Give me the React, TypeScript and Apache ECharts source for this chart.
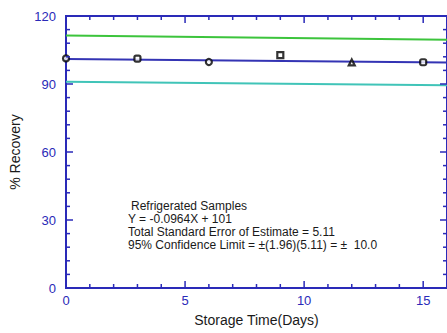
import React, { useEffect, useRef } from "react";
import * as echarts from "echarts";

const days = [0, 3, 6, 9, 12, 15];
const recovery = [101.3, 101.2, 99.7, 102.7, 99.5, 99.6];
const symbols = ["circle", "roundRect", "circle", "rect", "triangle", "roundRect"];
const regressionLine = [[0, 101], [16, 99.46]];
const upperLimit = [[0, 111.4], [16, 109.5]];
const lowerLimit = [[0, 91.0], [16, 89.4]];
const xTicks = [0, 5, 10, 15];
const yTicks = [0, 30, 60, 90, 120];
const xMajorTicks = [5, 10, 15];
const xMinorTicks = [1, 2, 3, 4, 6, 7, 8, 9, 11, 12, 13, 14];
const yMajorTicks = [30, 60, 90];
const yMinorTicks = [6, 12, 18, 24, 36, 42, 48, 54, 66, 72, 78, 84, 96, 102, 108, 114];
const noteLines = [
  "Refrigerated Samples",
  "Y = -0.0964X + 101",
  "Total Standard Error of Estimate = 5.11",
  "95% Confidence Limit = \u00B1(1.96)(5.11) = \u00B1  10.0",
];

const AXIS = "#2a2ab8";
const FONT = "Liberation Sans, Arial, sans-serif";
const X_MAX = 16;
const Y_MAX = 120;

// side: 0 bottom, 1 top, 2 left, 3 right
function tickSeries(side: number, values: number[], len: number) {
  return {
    type: "custom",
    silent: true,
    clip: false,
    z: 10,
    data: values.map((v) => [v, len]),
    renderItem: (params: any, api: any) => {
      const v = api.value(0);
      const l = api.value(1);
      let x1 = 0, y1 = 0, x2 = 0, y2 = 0;
      if (side === 0) {
        const p = api.coord([v, 0]);
        x1 = p[0]; y1 = p[1]; x2 = p[0]; y2 = p[1] - l;
      } else if (side === 1) {
        const p = api.coord([v, Y_MAX]);
        x1 = p[0]; y1 = p[1]; x2 = p[0]; y2 = p[1] + l;
      } else if (side === 2) {
        const p = api.coord([0, v]);
        x1 = p[0]; y1 = p[1]; x2 = p[0] + l; y2 = p[1];
      } else {
        const p = api.coord([X_MAX, v]);
        x1 = p[0]; y1 = p[1]; x2 = p[0] - l; y2 = p[1];
      }
      return {
        type: "line",
        shape: { x1, y1, x2, y2 },
        style: { stroke: AXIS, lineWidth: 1.5 },
      };
    },
  };
}

export default function App() {
  const ref = useRef<HTMLDivElement>(null);
  useEffect(() => {
    if (!ref.current) return;
    const chart = echarts.init(ref.current, null, { renderer: "svg" });
    chart.setOption({
      animation: false,
      grid: {
        left: 62,
        top: 16,
        right: -1,
        bottom: 45,
        show: true,
        borderColor: AXIS,
        borderWidth: 2,
        backgroundColor: "transparent",
      },
      xAxis: {
        type: "value",
        min: 0,
        max: X_MAX,
        interval: 5,
        axisLine: { show: false },
        axisTick: { show: false },
        splitLine: { show: false },
        name: "Storage Time(Days)",
        nameLocation: "middle",
        nameGap: 25,
        nameTextStyle: { color: "#1a1a1a", fontFamily: FONT, fontSize: 14 },
        axisLabel: {
          color: AXIS,
          fontFamily: FONT,
          fontSize: 13,
          margin: 6,
          showMaxLabel: false,
          formatter: (v: number) => (xTicks.includes(v) ? String(v) : ""),
        },
      },
      yAxis: {
        type: "value",
        min: 0,
        max: Y_MAX,
        interval: 30,
        axisLine: { show: false },
        axisTick: { show: false },
        splitLine: { show: false },
        name: "% Recovery",
        nameLocation: "middle",
        nameGap: 44,
        nameTextStyle: { color: "#1a1a1a", fontFamily: FONT, fontSize: 14 },
        axisLabel: {
          color: AXIS,
          fontFamily: FONT,
          fontSize: 13,
          margin: 10,
          formatter: (v: number) => (yTicks.includes(v) ? String(v) : ""),
        },
      },
      series: [
        tickSeries(0, xMajorTicks, 7),
        tickSeries(0, xMinorTicks, 4),
        tickSeries(1, xMajorTicks, 7),
        tickSeries(1, xMinorTicks, 4),
        tickSeries(2, yMajorTicks, 7),
        tickSeries(2, yMinorTicks, 4),
        tickSeries(3, yMajorTicks, 7),
        tickSeries(3, yMinorTicks, 4),
        {
          type: "line",
          data: upperLimit,
          showSymbol: false,
          lineStyle: { color: "#3cc43c", width: 2 },
          z: 2,
        },
        {
          type: "line",
          data: lowerLimit,
          showSymbol: false,
          lineStyle: { color: "#40c4b8", width: 2 },
          z: 2,
        },
        {
          type: "line",
          data: regressionLine,
          showSymbol: false,
          lineStyle: { color: "#3434b4", width: 2 },
          z: 2,
        },
        {
          type: "scatter",
          data: days.map((d, i) => ({
            value: [d, recovery[i]],
            symbol: symbols[i],
          })),
          symbolSize: 6,
          itemStyle: { color: "#ffffff", borderColor: "#000000", borderWidth: 2.2 },
          z: 5,
        },
      ],
      graphic: noteLines.map((t, i) => ({
        type: "text",
        left: i === 0 ? 131 : 128,
        top: 200 + i * 13,
        style: { text: t, fill: "#1a1a1a", font: `12px ${FONT}` },
      })),
    });
    return () => chart.dispose();
  }, []);
  return (
    <div
      ref={ref}
      style={{ width: 447, height: 333, position: "absolute", left: 0, top: 0, background: "#ffffff" }}
    />
  );
}
